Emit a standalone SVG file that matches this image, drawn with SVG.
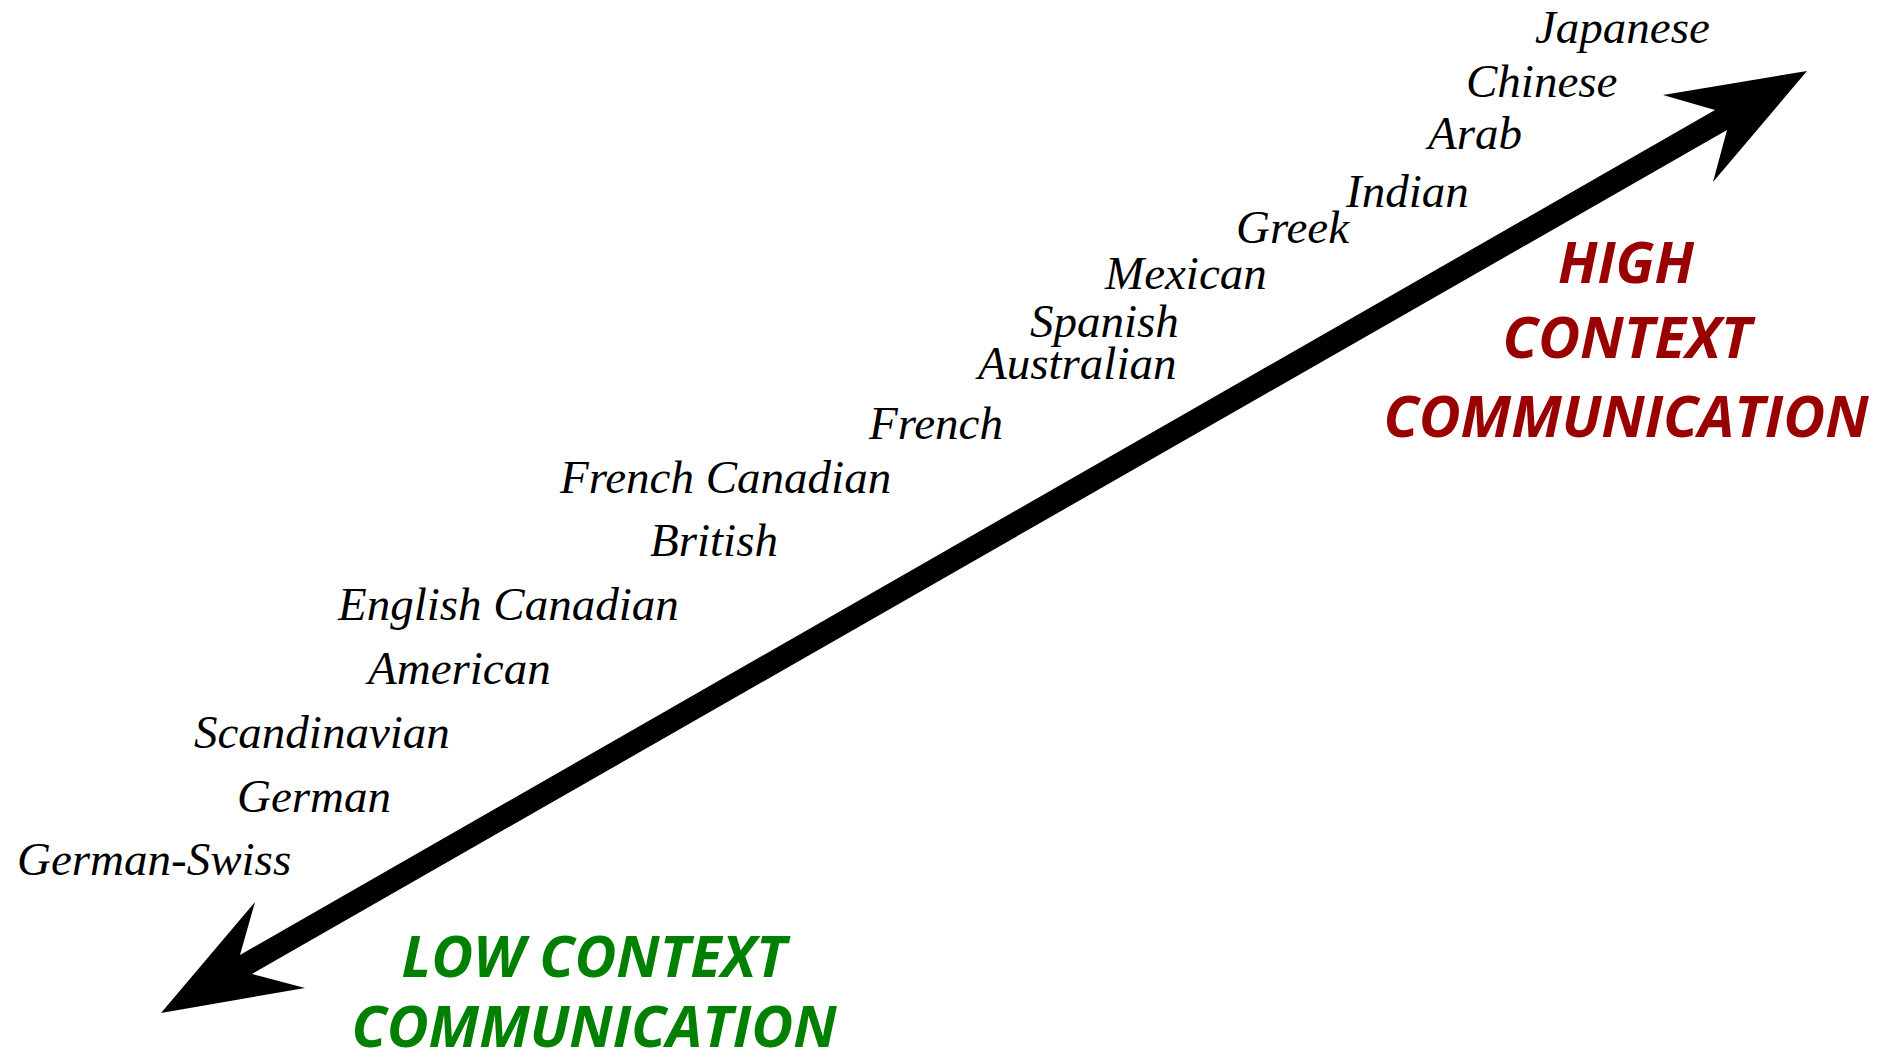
<svg xmlns="http://www.w3.org/2000/svg" width="1884" height="1058" viewBox="0 0 1884 1058">
<style>
.lbl{font-family:"Liberation Serif","Times New Roman",serif;font-style:italic;font-size:47px;fill:#000}
.hi{font-family:"Open Sans","Noto Sans",sans-serif;font-style:italic;font-weight:bold;font-size:57px;fill:#990000;text-anchor:middle}
.lo{font-family:"Open Sans","Noto Sans",sans-serif;font-style:italic;font-weight:bold;font-size:57px;fill:#008000;text-anchor:middle}
</style>
<rect width="1884" height="1058" fill="#fff"/>
<g id="connectors">
<polygon points="1807,71 1663,95 1715,110 240,955 255,902 161,1013 305,988 252,974 1727,130 1713,182" fill="#000"/>
</g>
<g id="japanese"><text class="lbl" x="1535" y="43">Japanese</text></g>
<g id="chinese"><text class="lbl" x="1466" y="97">Chinese</text></g>
<g id="arab"><text class="lbl" x="1428" y="149">Arab</text></g>
<g id="indian"><text class="lbl" x="1346" y="207">Indian</text></g>
<g id="greek"><text class="lbl" x="1236" y="243">Greek</text></g>
<g id="mexican"><text class="lbl" x="1105" y="289">Mexican</text></g>
<g id="spanish"><text class="lbl" x="1030" y="337">Spanish</text></g>
<g id="australian"><text class="lbl" x="978" y="379">Australian</text></g>
<g id="french"><text class="lbl" x="869" y="439">French</text></g>
<g id="french-canadian"><text class="lbl" x="560" y="493">French Canadian</text></g>
<g id="british"><text class="lbl" x="650" y="556">British</text></g>
<g id="english-canadian"><text class="lbl" x="338" y="620">English Canadian</text></g>
<g id="american"><text class="lbl" x="368" y="684">American</text></g>
<g id="scandinavian"><text class="lbl" x="194" y="748">Scandinavian</text></g>
<g id="german"><text class="lbl" x="237" y="812">German</text></g>
<g id="german-swiss"><text class="lbl" x="17" y="875">German-Swiss</text></g>
<g id="high-context">
<text class="hi" x="1626" y="283" textLength="136" lengthAdjust="spacingAndGlyphs">HIGH</text>
<text class="hi" x="1627" y="358" textLength="249" lengthAdjust="spacingAndGlyphs">CONTEXT</text>
<text class="hi" x="1626" y="437" textLength="485" lengthAdjust="spacingAndGlyphs">COMMUNICATION</text>
</g>
<g id="low-context">
<text class="lo" x="594" y="977" textLength="385" lengthAdjust="spacingAndGlyphs">LOW CONTEXT</text>
<text class="lo" x="594" y="1047" textLength="485" lengthAdjust="spacingAndGlyphs">COMMUNICATION</text>
</g>
</svg>
